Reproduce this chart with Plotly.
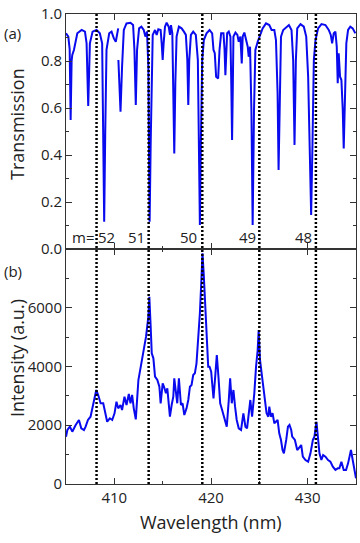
import plotly.graph_objects as go
from plotly.subplots import make_subplots

# ---------------- data ----------------
trans_wl = [405.00, 405.24, 405.38, 405.48, 405.58, 405.65, 405.82, 406.17, 406.62, 406.96,
            407.13, 407.30, 407.47, 407.75, 408.16, 408.50, 408.74, 408.85, 408.95, 409.06,
            409.19, 409.47, 409.71, 409.95, 410.15, 410.40, None, 410.42, 410.64, 410.80,
            410.98, 411.26, 411.67, 411.94, 412.08, 412.22, 412.35, 412.56, 412.80, 413.04,
            413.21, 413.38, 413.52, 413.58, 413.65, 413.76, 413.87, 413.97, 414.21, 414.38,
            414.55, 414.79, 414.90, 415.00, 415.10, 415.24, 415.41, 415.62, 415.76, 415.86,
            416.00, 416.10, 416.20, 416.31, 416.44, 416.68, 416.96, 417.20, 417.40, 417.55,
            417.65, 417.75, 417.92, 418.16, 418.43, 418.64, 418.78, 418.85, 418.95, 419.09,
            419.26, 419.54, 419.85, 420.12, 420.26, 420.39, 420.53, 420.74, 420.88, 421.05,
            421.29, 421.40, 421.49, 421.58, 421.67, 421.84, 422.01, 422.10, 422.18, 422.26,
            422.32, 422.53, 422.73, 422.87, 423.04, 423.18, 423.28, 423.45, 423.63, 423.80,
            423.90, 424.04, 424.18, 424.31, 424.45, 424.59, 424.83, 425.07, 425.34, 425.69,
            426.03, 426.27, 426.55, 426.72, 426.89, 426.99, 427.10, 427.24, 427.47, 427.71,
            428.06, 428.33, 428.50, 428.64, 428.78, 428.92, 429.26, 429.60, 429.85, 430.05,
            430.22, 430.36, 430.50, 430.64, 430.81, 431.08, 431.43, 431.84, 432.18, 432.39,
            432.53, 432.70, 432.87, 433.01, 433.11, 433.21, 433.35, 433.49, 433.63, 433.73,
            433.87, 434.00, 434.18, 434.41, 434.66, 434.93]
trans_val = [0.918, 0.904, 0.850, 0.549, 0.800, 0.826, 0.847, 0.918, 0.932, 0.925,
             0.875, 0.609, 0.875, 0.925, 0.932, 0.918, 0.875, 0.500, 0.116, 0.500,
             0.847, 0.918, 0.925, 0.896, 0.882, 0.939, None, 0.804, 0.584, 0.776,
             0.932, 0.960, 0.963, 0.953, 0.847, 0.613, 0.847, 0.939, 0.946, 0.932,
             0.904, 0.925, 0.776, 0.450, 0.116, 0.450, 0.733, 0.911, 0.932, 0.911,
             0.935, 0.932, 0.875, 0.804, 0.875, 0.946, 0.963, 0.946, 0.911, 0.953,
             0.918, 0.705, 0.407, 0.705, 0.904, 0.946, 0.939, 0.925, 0.911, 0.804,
             0.613, 0.804, 0.911, 0.925, 0.911, 0.804, 0.450, 0.102, 0.450, 0.804,
             0.889, 0.918, 0.932, 0.918, 0.847, 0.833, 0.733, 0.726, 0.847, 0.918,
             0.918, 0.850, 0.740, 0.850, 0.918, 0.925, 0.904, 0.700, 0.464, 0.700,
             0.904, 0.921, 0.911, 0.882, 0.904, 0.790, 0.904, 0.921, 0.882, 0.861,
             0.818, 0.861, 0.591, 0.102, 0.591, 0.847, 0.882, 0.911, 0.939, 0.960,
             0.953, 0.932, 0.932, 0.889, 0.662, 0.336, 0.662, 0.904, 0.932, 0.939,
             0.953, 0.932, 0.804, 0.443, 0.804, 0.939, 0.957, 0.946, 0.904, 0.733,
             0.379, 0.145, 0.450, 0.804, 0.889, 0.939, 0.957, 0.953, 0.932, 0.911,
             0.875, 0.918, 0.925, 0.861, 0.705, 0.833, 0.733, 0.719, 0.591, 0.428,
             0.662, 0.875, 0.932, 0.946, 0.939, 0.918]

pl_wl = [405.00, 405.14, 405.40, 405.65, 406.00, 406.34, 406.58, 406.86, 407.03, 407.27,
         407.54, 407.71, 407.95, 408.13, 408.33, 408.58, 408.85, 409.09, 409.26, 409.54,
         409.78, 410.02, 410.22, 410.40, 410.64, 410.80, 411.05, 411.26, 411.50, 411.67,
         411.84, 412.01, 412.22, 412.49, 412.73, 413.01, 413.28, 413.52, 413.62, 413.76,
         413.87, 414.04, 414.21, 414.45, 414.66, 414.79, 415.00, 415.14, 415.34, 415.48,
         415.65, 415.75, 415.93, 416.10, 416.20, 416.37, 416.51, 416.68, 416.79, 416.89,
         417.06, 417.24, 417.47, 417.65, 417.82, 417.99, 418.16, 418.33, 418.50, 418.68,
         418.85, 419.02, 419.12, 419.26, 419.47, 419.60, 419.71, 419.85, 420.02, 420.12,
         420.26, 420.46, 420.60, 420.77, 420.95, 421.15, 421.39, 421.63, 421.84, 421.98,
         422.15, 422.32, 422.49, 422.66, 422.87, 423.11, 423.35, 423.56, 423.73, 423.90,
         424.07, 424.25, 424.48, 424.66, 424.83, 424.93, 425.07, 425.24, 425.41, 425.59,
         425.75, 425.93, 426.03, 426.20, 426.37, 426.55, 426.72, 426.89, 427.06, 427.24,
         427.40, 427.54, 427.78, 427.96, 428.12, 428.30, 428.40, 428.68, 428.92, 429.15,
         429.33, 429.50, 429.77, 430.05, 430.29, 430.54, 430.70, 430.91, 431.05, 431.22,
         431.42, 431.60, 431.84, 432.11, 432.35, 432.60, 432.87, 433.11, 433.28, 433.49,
         433.73, 433.97, 434.18, 434.35, 434.48, 434.66, 434.82, 435.00]
pl_val = [1610, 1838, 1951, 1781, 2008, 2179, 1896, 1838, 1951, 2179,
          2291, 2575, 2972, 3200, 3030, 2747, 2747, 2407, 2121, 2236,
          2179, 2407, 2802, 2575, 2689, 2519, 2972, 2689, 3064, 2747,
          3030, 2575, 2200, 3540, 3995, 4391, 5014, 5695, 6376, 5355,
          4448, 4278, 3653, 3540, 3312, 2747, 3428, 3312, 3087, 3257,
          2747, 2291, 2689, 2972, 3598, 3200, 2747, 3598, 3087, 2689,
          2747, 2349, 2575, 2860, 3312, 3370, 3710, 3768, 4108, 4902,
          5810, 7057, 7853, 7057, 5810, 4674, 3995, 3995, 3823, 3428,
          2917, 3768, 4391, 3653, 2747, 2519, 2179, 1951, 2860, 3598,
          2747, 3200, 2631, 2179, 1896, 1838, 2407, 1951, 1896, 2407,
          2860, 2291, 3087, 3995, 4561, 5242, 4221, 3768, 3312, 2860,
          2407, 2291, 2631, 2291, 2407, 2066, 2121, 2179, 1726, 1498,
          1157, 1044, 1500, 1950, 2008, 1838, 1610, 1500, 1157, 1270,
          1327, 930, 817, 760, 1044, 1500, 1610, 2120, 1610, 1044,
          817, 987, 930, 817, 760, 590, 477, 533, 533, 760,
          477, 477, 703, 987, 1157, 817, 477, 193]

mode_wl = [408.16, 413.55, 419.10, 425.00, 430.85]
mode_labels = ["52", "51", "50", "49", "48"]
mode_label_x = [409.23, 412.27, 417.68, 423.76, 429.54]

# ---------------- figure ----------------
fig = make_subplots(rows=2, cols=1, shared_xaxes=True, vertical_spacing=0)

line_color = "#0a0aee"
fig.add_trace(go.Scatter(x=trans_wl, y=trans_val, mode="lines",
                         line=dict(color=line_color, width=2), connectgaps=False,
                         showlegend=False), row=1, col=1)
fig.add_trace(go.Scatter(x=pl_wl, y=pl_val, mode="lines",
                         line=dict(color=line_color, width=2),
                         showlegend=False), row=2, col=1)

for wl in mode_wl:
    fig.add_shape(type="line", xref="x", yref="paper", x0=wl, x1=wl, y0=0, y1=1,
                  line=dict(color="black", width=2.5, dash="2px,2px"), layer="above")

font_fam = "Open Sans, Arial, sans-serif"
axcol = "#333333"
txtcol = "#222222"

xcommon = dict(range=[405, 435], dtick=10, tick0=0, ticks="inside", ticklen=6,
               tickcolor=axcol, showline=True, linecolor=axcol, linewidth=1,
               mirror="ticks", showgrid=False, zeroline=False,
               minor=dict(dtick=5, tick0=0, ticks="inside", ticklen=3, tickcolor=axcol),
               tickfont=dict(size=15, color=txtcol, family=font_fam))
fig.update_xaxes(**xcommon)
fig.update_xaxes(showticklabels=False, row=1, col=1)

fig.update_yaxes(range=[0, 1], dtick=0.2, tickformat=".1f", ticks="inside", ticklen=6,
                 tickcolor=axcol, showline=True, linecolor=axcol, linewidth=1,
                 mirror="ticks", showgrid=False, zeroline=False,
                 minor=dict(dtick=0.1, ticks="inside", ticklen=3, tickcolor=axcol),
                 tickfont=dict(size=15, color=txtcol, family=font_fam), row=1, col=1)
fig.update_yaxes(range=[0, 7999], dtick=2000, ticks="inside", ticklen=6,
                 tickcolor=axcol, showline=True, linecolor=axcol, linewidth=1,
                 mirror="ticks", showgrid=False, zeroline=False,
                 minor=dict(dtick=1000, ticks="inside", ticklen=3, tickcolor=axcol),
                 tickfont=dict(size=15, color=txtcol, family=font_fam), row=2, col=1)

def A(text, x, y, size, xref="paper", yref="paper", angle=0):
    return dict(text=text, xref=xref, yref=yref, x=x, y=y, textangle=angle,
                xanchor="center", yanchor="middle", showarrow=False,
                font=dict(size=size, color=txtcol, family=font_fam))

ann = [
    A("Transmission", -0.169, 0.766, 18, angle=-90),
    A("Intensity (a.u.)", -0.169, 0.268, 18, angle=-90),
    A("Wavelength (nm)", 0.5, -0.081, 18),
    A("(a)", -0.183, 0.96, 15),
    A("(b)", -0.183, 0.453, 15),
    A("m=", 406.75, 0.051, 15, xref="x", yref="y"),
]
for lx, lab in zip(mode_label_x, mode_labels):
    ann.append(A(lab, lx, 0.051, 15, xref="x", yref="y"))

fig.update_layout(width=360, height=543, margin=dict(l=66, r=4, t=14, b=59),
                  paper_bgcolor="white", plot_bgcolor="white",
                  font=dict(family=font_fam, color=txtcol), annotations=ann,
                  showlegend=False)

fig.write_html("out.html")
